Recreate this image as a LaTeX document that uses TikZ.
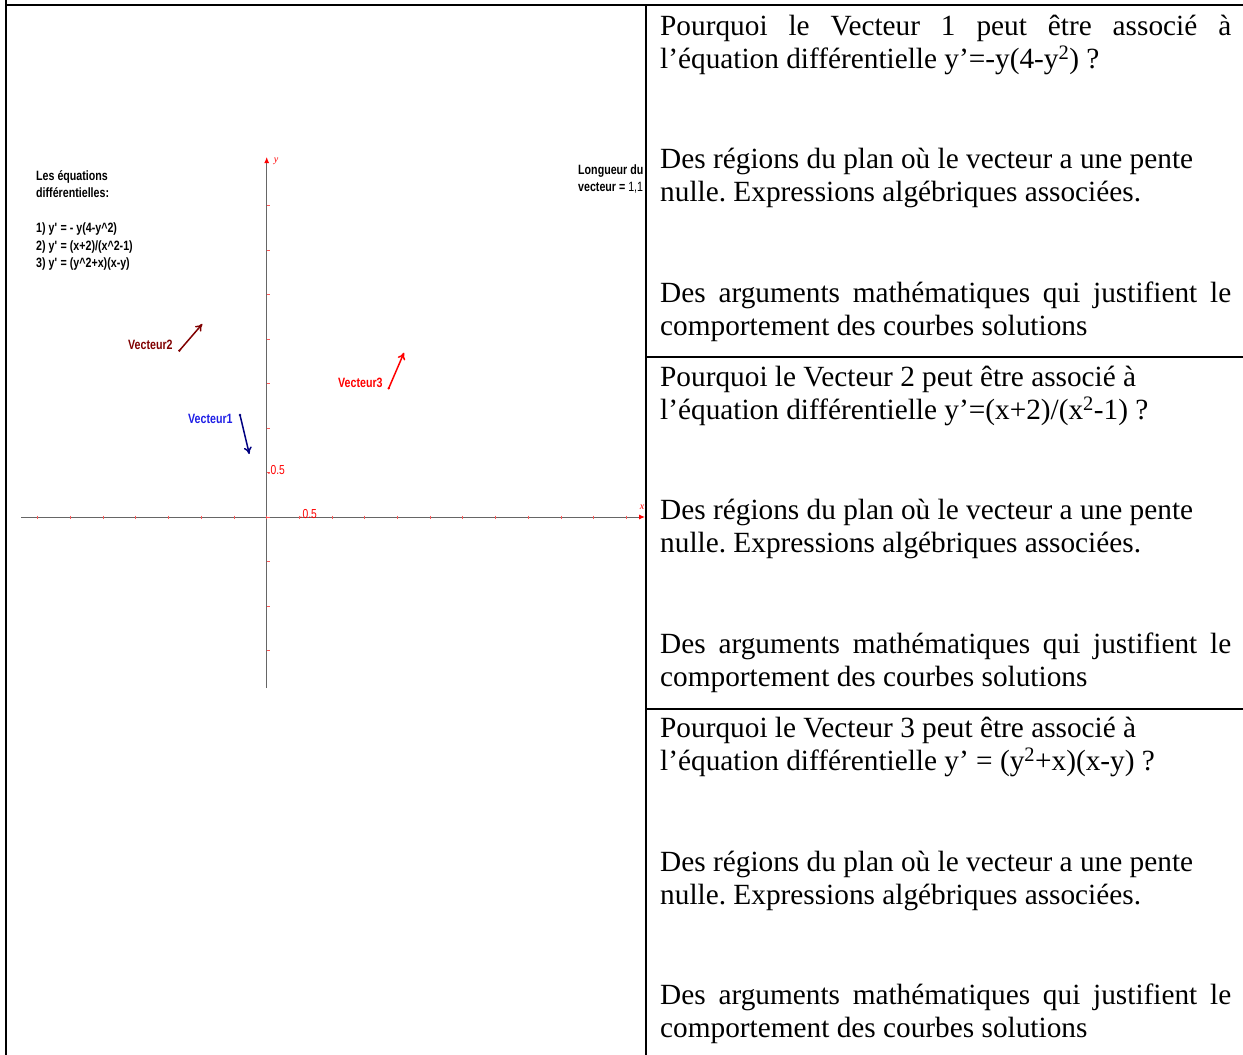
\documentclass[tikz,border=0pt]{standalone}
\usepackage{fontspec}
\setmainfont{Liberation Serif}
\newfontfamily\geofont[FakeStretch=0.79]{Liberation Sans}
\usetikzlibrary{arrows.meta, positioning}
\hyphenpenalty=10000
\frenchspacing

\definecolor{vecun}{RGB}{0,0,128}
\definecolor{etiqun}{RGB}{30,30,230}
\definecolor{vecdeux}{RGB}{128,0,0}
\definecolor{axegris}{RGB}{102,102,102}

\begin{document}
\begin{tikzpicture}[x=1pt, y=-1pt,
        cadre/.style={line width=2.6pt, black},
        trait/.style={line width=2pt, black},
        axe/.style={axegris, line width=1pt},
        graduation/.style={red!65, line width=1pt},
        geo/.style={font=\geofont\bfseries\fontsize{13.5}{17.4}\selectfont, inner sep=0pt, anchor=base west, align=left},
        graduee/.style={font=\geofont\fontsize{13}{14}\selectfont, text=red, inner sep=0pt, anchor=west},
        vecteur/.style={line width=1.5pt, -{To[length=7pt, width=8pt]}},
        question/.style={text width=571pt, inner sep=0pt, anchor=base west, align=justify,
            font=\fontsize{29.3}{33.8}\selectfont}
    ]
        \useasboundingbox (0,0) rectangle (1243,1055);

        % Le tableau
        \draw[cadre] (6,0) -- (6,1055);
        \draw[cadre] (6,5) -- (1243,5);
        \draw[trait] (646,5) -- (646,1055);
        \draw[trait] (646,357) -- (1243,357);
        \draw[trait] (646,709) -- (1243,709);

        % Les axes
        \coordinate (O) at (266.7,517);
        \coordinate (xmin) at (21,517);
        \coordinate (xmax) at (645,517);
        \coordinate (ymin) at (266.7,688);
        \coordinate (ymax) at (266.7,157);
        \draw[axe, -{Latex[color=red, length=6pt, width=5pt]}] (xmin) -- (xmax);
        \draw[axe, -{Latex[color=red, length=6pt, width=5pt]}] (ymin) -- (ymax);
        \foreach \k in {-7,...,11}
            \draw[graduation] (266.7+32.7*\k,515.5) -- ++(0,3);
        \foreach \k in {-3,...,7}
            \draw[graduation] (266.7,517-44.5*\k) -- ++(3,0);
        \node[text=red, font=\itshape\fontsize{10}{12}\selectfont, inner sep=0pt] (ly) at (276,161) {y};
        \node[text=red, font=\itshape\fontsize{10}{12}\selectfont, inner sep=0pt] (lx) at (642,507) {x};
        \node[graduee] (gy) at (267.5,470) {.0.5};
        \node[graduee] (gx) at (299.5,514) {.0.5};

        % Les textes du graphique (base = derniere ligne)
        \node[geo] (equations) at (36,267.5) {Les équations\\différentielles:\\[17.4pt]
            1) y\textquotesingle{} = - y(4-y\textasciicircum 2)\\
            2) y\textquotesingle{} = (x+2)/(x\textasciicircum 2-1)\\
            3) y\textquotesingle{} = (y\textasciicircum 2+x)(x-y)};
        \begin{scope}
            \clip (560,150) rectangle (645,200);
            \node[geo] (longueur) at (578,191.5) {Longueur du\\vecteur = \mdseries 1,1};
        \end{scope}

        % Les vecteurs
        \coordinate (v1a) at (240,415);
        \coordinate (v1b) at (249.3,454);
        \coordinate (v2a) at (179.3,350.7);
        \coordinate (v2b) at (202.3,324);
        \coordinate (v3a) at (388.7,388.3);
        \coordinate (v3b) at (404,352.7);
        \draw[vecteur, vecun] (v1a) -- (v1b);
        \draw[vecteur, vecdeux] (v2a) -- (v2b);
        \draw[vecteur, red] (v3a) -- (v3b);
        \fill[vecun] (v1a) circle (1.3);
        \fill[vecdeux] (v2a) circle (1.3);
        \fill[red] (v3a) circle (1.3);
        \node[geo, text=etiqun] (e1) at (188,423.5) {Vecteur1};
        \node[geo, text=vecdeux] (e2) at (128,349.5) {Vecteur2};
        \node[geo, text=red] (e3) at (338,387.5) {Vecteur3};

        % Les questions
        \node[question] (q1) at (660,35) {Pourquoi le Vecteur 1 peut être associé à\linebreak
            l’équation différentielle y’=-y(4-y\textsuperscript{2}) ?};
        \node[question] (q2) at (660,386) {Pourquoi le Vecteur 2 peut être associé à\newline
            l’équation différentielle y’=(x+2)/(x\textsuperscript{2}-1) ?};
        \node[question] (q3) at (660,737) {Pourquoi le Vecteur 3 peut être associé à\newline
            l’équation différentielle y’ = (y\textsuperscript{2}+x)(x-y) ?};
        \foreach \i/\r/\a in {1/168/302, 2/519/653, 3/871/1004} {
            \node[question] (r\i) at (660,\r) {Des régions du plan où le vecteur a une pente\newline
                nulle. Expressions algébriques associées.};
            \node[question] (a\i) at (660,\a) {Des arguments mathématiques qui justifient le\linebreak
                comportement des courbes solutions};
        }
    \end{tikzpicture}
\end{document}
